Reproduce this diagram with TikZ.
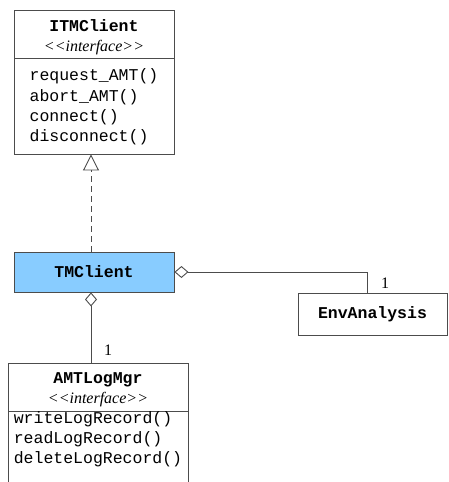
\documentclass[tikz,border=0pt]{standalone}
\usepackage{fontspec}
\setmainfont{Liberation Serif}
\setmonofont{Liberation Mono}
\usetikzlibrary{arrows.meta}
\definecolor{classblue}{RGB}{136,204,255}
\def\cname#1{{\fontsize{16.5}{20}\selectfont\ttfamily\bfseries #1}}
\def\stereo{{\fontsize{16}{20}\selectfont\itshape <{}<interface>{}>}}
\def\ops{\fontsize{16.5}{20.2}\selectfont\ttfamily}

\tikzset{
	classbox/.style={draw=black!70, line width=0.9pt, inner sep=0pt, align=center, font=\fontsize{16.5}{20}\selectfont},
	headtext/.style={inner sep=0pt, align=center, font=\fontsize{16.5}{20}\selectfont},
	opstext/.style={inner sep=0pt, align=left, font=\ops},
	realize/.style={draw=black!70, line width=0.9pt, dash pattern=on 6pt off 4pt, -{Triangle[open, length=16pt, width=16pt]}},
	aggr/.style={draw=black!70, line width=0.9pt, {Diamond[open, length=14pt, width=12pt]}-},
	mult/.style={inner sep=0pt, font=\fontsize{16}{19}\selectfont}
}

\begin{document}
\begin{tikzpicture}[x=1pt, y=-1pt]
			%%%%% START %%%%%
			\clip (0, 0) rectangle (448, 482);
			
			% ITMClient
			\node[classbox, minimum width=160pt, minimum height=48pt] (itmhead) at (94, 34) {};
			\node[headtext] (itmtitle) at (94, 37) {\cname{ITMClient}\\\stereo};
			\node[classbox, minimum width=160pt, minimum height=96pt] (itmops) at (94, 106) {};
			\node[opstext] (itmopstext) at (94, 107) {request\_AMT()\\abort\_AMT()\\connect()\\disconnect()};
			
			% TMClient
			\node[classbox, fill=classblue, minimum width=160pt, minimum height=40pt] (tm) at (94, 272) {\cname{TMClient}};
			
			% EnvAnalysis
			\node[classbox, minimum width=149pt, minimum height=42pt] (env) at (372.5, 314) {\cname{EnvAnalysis}};
			
			% AMTLogMgr
			\node[classbox, minimum width=180pt, minimum height=48pt] (amthead) at (98, 387) {};
			\node[headtext] (amttitle) at (98, 390) {\cname{AMTLogMgr}\\\stereo};
			\node[classbox, minimum width=180pt, minimum height=80pt, anchor=north] (amtops) at (98, 411) {};
			\node[opstext] (amtopstext) at (98, 439.5) {writeLogRecord()\\readLogRecord()\\deleteLogRecord()};
			
			% connectors
			\draw[realize] ([xshift=-3pt]tm.north) -- ([xshift=-3pt]tm.north |- itmops.south);
			\draw[aggr] (tm.east) -| ([xshift=-5pt]env.north);
			\draw[aggr] ([xshift=-3pt]tm.south) -- ([xshift=-3pt]tm.south |- amthead.north);
			
			\node[mult] (envmult) at (385, 283) {1};
			\node[mult] (amtmult) at (108, 350) {1};
			
			%%%%% END %%%%%
\end{tikzpicture}
\end{document}
